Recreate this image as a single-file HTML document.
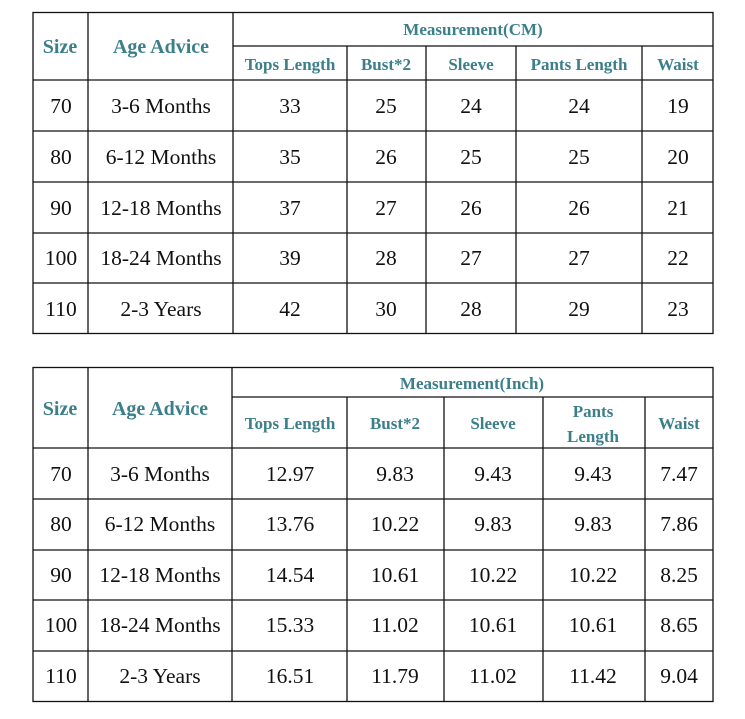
<!DOCTYPE html>
<html><head><meta charset="utf-8"><style>
html,body{margin:0;padding:0;background:#fff;width:745px;height:719px;overflow:hidden}
svg{display:block}
.h{font-family:"Liberation Serif",serif;font-weight:bold;fill:#3b7f8b;text-anchor:middle}
.d{font-family:"Liberation Serif",serif;fill:#111;font-size:21.5px;text-anchor:middle}
line{stroke:#111;stroke-width:1.3}
</style></head><body>
<svg width="745" height="719" xmlns="http://www.w3.org/2000/svg">
<!-- Table 1 -->
<rect x="33" y="12.5" width="680" height="321" fill="none" stroke="#111" stroke-width="1.3"/>
<line x1="88" y1="12" x2="88" y2="333"/>
<line x1="233" y1="12" x2="233" y2="333"/>
<line x1="233" y1="46" x2="713" y2="46"/>
<line x1="347" y1="46" x2="347" y2="333"/>
<line x1="426" y1="46" x2="426" y2="333"/>
<line x1="516" y1="46" x2="516" y2="333"/>
<line x1="642" y1="46" x2="642" y2="333"/>
<line x1="33" y1="80" x2="713" y2="80"/>
<line x1="33" y1="131" x2="713" y2="131"/>
<line x1="33" y1="182" x2="713" y2="182"/>
<line x1="33" y1="233" x2="713" y2="233"/>
<line x1="33" y1="283" x2="713" y2="283"/>
<text class="h" x="60" y="53" font-size="20">Size</text>
<text class="h" x="161" y="53" font-size="20">Age Advice</text>
<text class="h" x="473" y="35" font-size="17">Measurement(CM)</text>
<text class="h" x="290" y="70" font-size="17">Tops Length</text>
<text class="h" x="386" y="70" font-size="17">Bust*2</text>
<text class="h" x="471" y="70" font-size="17">Sleeve</text>
<text class="h" x="579" y="70" font-size="17">Pants Length</text>
<text class="h" x="678" y="70" font-size="17">Waist</text>
<text class="d" x="61" y="113">70</text><text class="d" x="161" y="113">3-6 Months</text><text class="d" x="290" y="113">33</text><text class="d" x="386" y="113">25</text><text class="d" x="471" y="113">24</text><text class="d" x="579" y="113">24</text><text class="d" x="678" y="113">19</text>
<text class="d" x="61" y="164">80</text><text class="d" x="161" y="164">6-12 Months</text><text class="d" x="290" y="164">35</text><text class="d" x="386" y="164">26</text><text class="d" x="471" y="164">25</text><text class="d" x="579" y="164">25</text><text class="d" x="678" y="164">20</text>
<text class="d" x="61" y="215">90</text><text class="d" x="161" y="215">12-18 Months</text><text class="d" x="290" y="215">37</text><text class="d" x="386" y="215">27</text><text class="d" x="471" y="215">26</text><text class="d" x="579" y="215">26</text><text class="d" x="678" y="215">21</text>
<text class="d" x="61" y="265">100</text><text class="d" x="161" y="265">18-24 Months</text><text class="d" x="290" y="265">39</text><text class="d" x="386" y="265">28</text><text class="d" x="471" y="265">27</text><text class="d" x="579" y="265">27</text><text class="d" x="678" y="265">22</text>
<text class="d" x="61" y="316">110</text><text class="d" x="161" y="316">2-3 Years</text><text class="d" x="290" y="316">42</text><text class="d" x="386" y="316">30</text><text class="d" x="471" y="316">28</text><text class="d" x="579" y="316">29</text><text class="d" x="678" y="316">23</text>
<!-- Table 2 -->
<rect x="33" y="367.5" width="680" height="334" fill="none" stroke="#111" stroke-width="1.3"/>
<line x1="88" y1="367" x2="88" y2="702"/>
<line x1="232" y1="367" x2="232" y2="702"/>
<line x1="232" y1="397" x2="713" y2="397"/>
<line x1="347" y1="397" x2="347" y2="702"/>
<line x1="444" y1="397" x2="444" y2="702"/>
<line x1="543" y1="397" x2="543" y2="702"/>
<line x1="645" y1="397" x2="645" y2="702"/>
<line x1="33" y1="448" x2="713" y2="448"/>
<line x1="33" y1="499" x2="713" y2="499"/>
<line x1="33" y1="550" x2="713" y2="550"/>
<line x1="33" y1="600" x2="713" y2="600"/>
<line x1="33" y1="651" x2="713" y2="651"/>
<text class="h" x="60" y="415" font-size="20">Size</text>
<text class="h" x="160" y="415" font-size="20">Age Advice</text>
<text class="h" x="472" y="389" font-size="17">Measurement(Inch)</text>
<text class="h" x="290" y="429" font-size="17">Tops Length</text>
<text class="h" x="395" y="429" font-size="17">Bust*2</text>
<text class="h" x="493" y="429" font-size="17">Sleeve</text>
<text class="h" x="593" y="417" font-size="17">Pants</text>
<text class="h" x="593" y="442" font-size="17">Length</text>
<text class="h" x="679" y="429" font-size="17">Waist</text>
<text class="d" x="61" y="481">70</text><text class="d" x="160" y="481">3-6 Months</text><text class="d" x="290" y="481">12.97</text><text class="d" x="395" y="481">9.83</text><text class="d" x="493" y="481">9.43</text><text class="d" x="593" y="481">9.43</text><text class="d" x="679" y="481">7.47</text>
<text class="d" x="61" y="531">80</text><text class="d" x="160" y="531">6-12 Months</text><text class="d" x="290" y="531">13.76</text><text class="d" x="395" y="531">10.22</text><text class="d" x="493" y="531">9.83</text><text class="d" x="593" y="531">9.83</text><text class="d" x="679" y="531">7.86</text>
<text class="d" x="61" y="582">90</text><text class="d" x="160" y="582">12-18 Months</text><text class="d" x="290" y="582">14.54</text><text class="d" x="395" y="582">10.61</text><text class="d" x="493" y="582">10.22</text><text class="d" x="593" y="582">10.22</text><text class="d" x="679" y="582">8.25</text>
<text class="d" x="61" y="632">100</text><text class="d" x="160" y="632">18-24 Months</text><text class="d" x="290" y="632">15.33</text><text class="d" x="395" y="632">11.02</text><text class="d" x="493" y="632">10.61</text><text class="d" x="593" y="632">10.61</text><text class="d" x="679" y="632">8.65</text>
<text class="d" x="61" y="683">110</text><text class="d" x="160" y="683">2-3 Years</text><text class="d" x="290" y="683">16.51</text><text class="d" x="395" y="683">11.79</text><text class="d" x="493" y="683">11.02</text><text class="d" x="593" y="683">11.42</text><text class="d" x="679" y="683">9.04</text>
</svg>
</body></html>
